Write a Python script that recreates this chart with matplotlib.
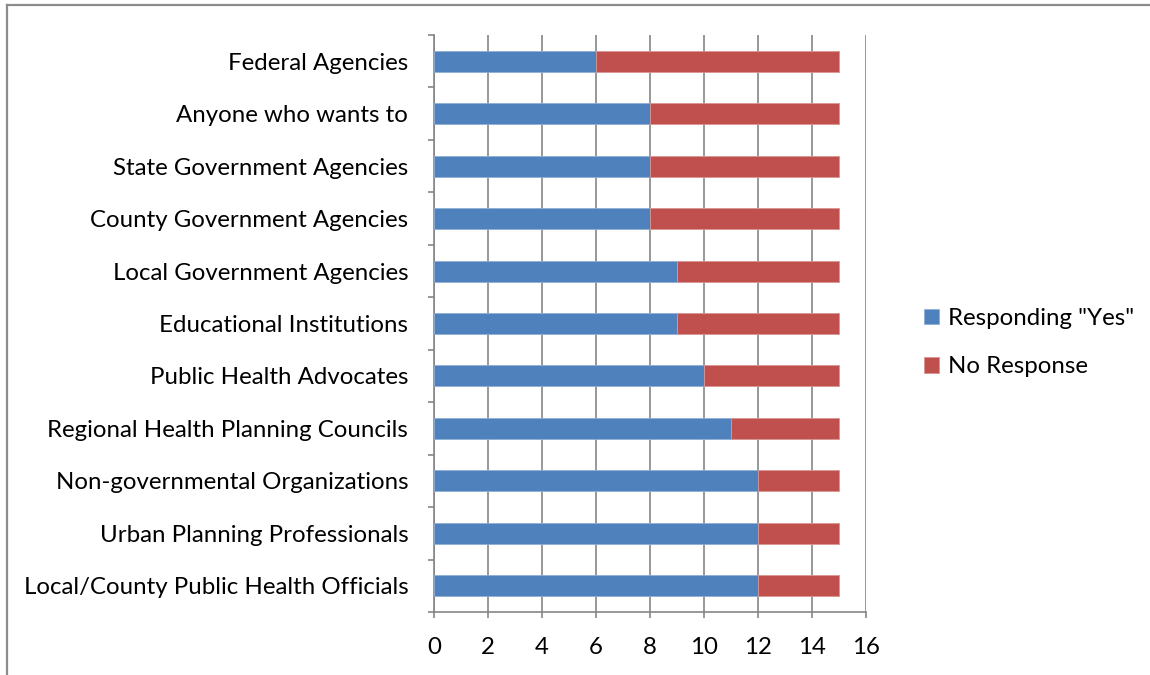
import matplotlib
matplotlib.use("Agg")
import matplotlib.pyplot as plt
import numpy as np
from matplotlib.lines import Line2D

# data (bottom category first, as barh draws it)
categories = [
    "Local/County Public Health Officials",
    "Urban Planning Professionals",
    "Non-governmental Organizations",
    "Regional Health Planning Councils",
    "Public Health Advocates",
    "Educational Institutions",
    "Local Government Agencies",
    "County Government Agencies",
    "State Government Agencies",
    "Anyone who wants to",
    "Federal Agencies",
]
yes_counts = [12, 12, 12, 11, 10, 9, 9, 8, 8, 8, 6]
no_response = [3, 3, 3, 4, 5, 6, 6, 7, 7, 7, 9]
x_ticks = [0, 2, 4, 6, 8, 10, 12, 14, 16]

blue = "#4F81BD"
red = "#C0504D"
grey = "#868686"

plt.rcParams["font.family"] = ["Lato", "DejaVu Sans"]
plt.rcParams["font.size"] = 17.3

fig = plt.figure(figsize=(11.5, 6.75), dpi=100)
ax = fig.add_axes([434 / 1150, 1 - 612 / 675, 432 / 1150, 577 / 675])

y = np.arange(len(categories))
ax.barh(y, yes_counts, height=0.4, color=blue, edgecolor="#8FAFD6", linewidth=0.6,
        label='Responding "Yes"', zorder=3)
ax.barh(y, no_response, left=yes_counts, height=0.4, color=red, edgecolor="#D99694",
        linewidth=0.6, label="No Response", zorder=3)

ax.set_xlim(0, 16)
ax.set_ylim(-0.5, len(categories) - 0.5)
ax.set_xticks(x_ticks)
ax.set_xticklabels([str(t) for t in x_ticks])
ax.set_yticks(y)
ax.set_yticklabels(categories)
ax.set_yticks(np.arange(len(categories) + 1) - 0.5, minor=True)

ax.grid(axis="x", color=grey, linewidth=1.2, zorder=0)
ax.tick_params(axis="y", which="major", length=0, pad=18.5)
ax.tick_params(axis="y", which="minor", length=4.3, color=grey, width=1.2)
ax.tick_params(axis="x", length=4.3, color=grey, width=1.2, pad=14)

for side in ["top", "right"]:
    ax.spines[side].set_visible(False)
for side in ["left", "bottom"]:
    ax.spines[side].set_color(grey)
    ax.spines[side].set_linewidth(1.2)

ax.legend(loc="center left", bbox_to_anchor=(1.135, 0.467), frameon=False,
          borderpad=0, borderaxespad=0,
          handlelength=0.63, handleheight=0.63, handletextpad=0.35, labelspacing=1.13)

# outer chart border
fig.add_artist(Line2D([7 / 1150, 7 / 1150], [0, 1 - 5 / 675], color="#8C8C8C", lw=1.6))
fig.add_artist(Line2D([7 / 1150, 1], [1 - 5 / 675, 1 - 5 / 675], color="#8C8C8C", lw=1.6))

fig.savefig("out.png", dpi=100)
